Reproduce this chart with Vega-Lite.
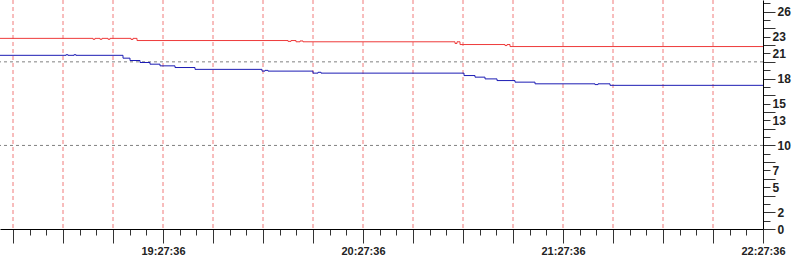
{
  "$schema": "https://vega.github.io/schema/vega-lite/v6.json",
  "width": 763,
  "height": 229,
  "autosize": {"type": "none"},
  "padding": {"left": 0, "top": 0, "right": 37, "bottom": 31},
  "background": "white",
  "config": {
    "view": {"stroke": null},
    "axisX": {
      "title": null,
      "grid": false,
      "labelOverlap": false,
      "labelFlush": false,
      "labelFont": "Liberation Sans",
      "labelFontSize": 11,
      "labelFontWeight": "bold",
      "labelColor": "#222222",
      "labelPadding": 2,
      "domainColor": "#000000",
      "domainWidth": 1,
      "tickColor": "#333333",
      "tickWidth": 1
    },
    "axisY": {
      "title": null,
      "grid": false,
      "labelOverlap": false,
      "labelFlush": false,
      "labelFont": "Liberation Sans",
      "labelFontSize": 12,
      "labelFontWeight": "bold",
      "labelColor": "#222222",
      "labelPadding": 2,
      "domainColor": "#000000",
      "domainWidth": 1,
      "tickColor": "#333333",
      "tickWidth": 1
    }
  },
  "datasets": {
    "vgrid": [
      {"g": "2024-01-01T18:42:36Z"}, {"g": "2024-01-01T18:57:36Z"}, {"g": "2024-01-01T19:12:36Z"},
      {"g": "2024-01-01T19:27:36Z"}, {"g": "2024-01-01T19:42:36Z"}, {"g": "2024-01-01T19:57:36Z"},
      {"g": "2024-01-01T20:12:36Z"}, {"g": "2024-01-01T20:27:36Z"}, {"g": "2024-01-01T20:42:36Z"},
      {"g": "2024-01-01T20:57:36Z"}, {"g": "2024-01-01T21:12:36Z"}, {"g": "2024-01-01T21:27:36Z"},
      {"g": "2024-01-01T21:42:36Z"}, {"g": "2024-01-01T21:57:36Z"}, {"g": "2024-01-01T22:12:36Z"}
    ],
    "hgrid": [{"h": 10}, {"h": 20}],
    "series": [
      {"t": "2024-01-01T18:38:42Z", "series": "Series 1", "v": 22.81},
      {"t": "2024-01-01T19:06:36Z", "series": "Series 1", "v": 22.70},
      {"t": "2024-01-01T19:07:12Z", "series": "Series 1", "v": 22.81},
      {"t": "2024-01-01T19:08:42Z", "series": "Series 1", "v": 22.70},
      {"t": "2024-01-01T19:09:18Z", "series": "Series 1", "v": 22.81},
      {"t": "2024-01-01T19:11:06Z", "series": "Series 1", "v": 22.70},
      {"t": "2024-01-01T19:11:42Z", "series": "Series 1", "v": 22.81},
      {"t": "2024-01-01T19:18:00Z", "series": "Series 1", "v": 22.68},
      {"t": "2024-01-01T19:18:36Z", "series": "Series 1", "v": 22.81},
      {"t": "2024-01-01T19:19:48Z", "series": "Series 1", "v": 22.55},
      {"t": "2024-01-01T20:05:06Z", "series": "Series 1", "v": 22.45},
      {"t": "2024-01-01T20:06:00Z", "series": "Series 1", "v": 22.55},
      {"t": "2024-01-01T20:07:30Z", "series": "Series 1", "v": 22.40},
      {"t": "2024-01-01T20:08:42Z", "series": "Series 1", "v": 22.50},
      {"t": "2024-01-01T20:09:36Z", "series": "Series 1", "v": 22.40},
      {"t": "2024-01-01T20:55:12Z", "series": "Series 1", "v": 22.20},
      {"t": "2024-01-01T20:55:48Z", "series": "Series 1", "v": 22.40},
      {"t": "2024-01-01T20:56:42Z", "series": "Series 1", "v": 22.07},
      {"t": "2024-01-01T21:10:12Z", "series": "Series 1", "v": 21.95},
      {"t": "2024-01-01T21:10:48Z", "series": "Series 1", "v": 22.07},
      {"t": "2024-01-01T21:11:42Z", "series": "Series 1", "v": 21.83},
      {"t": "2024-01-01T22:27:36Z", "series": "Series 1", "v": 21.83},
      {"t": "2024-01-01T18:38:42Z", "series": "Series 2", "v": 20.78},
      {"t": "2024-01-01T18:58:30Z", "series": "Series 2", "v": 20.85},
      {"t": "2024-01-01T18:59:06Z", "series": "Series 2", "v": 20.78},
      {"t": "2024-01-01T19:00:54Z", "series": "Series 2", "v": 20.85},
      {"t": "2024-01-01T19:01:30Z", "series": "Series 2", "v": 20.78},
      {"t": "2024-01-01T19:15:36Z", "series": "Series 2", "v": 20.44},
      {"t": "2024-01-01T19:17:42Z", "series": "Series 2", "v": 20.16},
      {"t": "2024-01-01T19:20:42Z", "series": "Series 2", "v": 19.92},
      {"t": "2024-01-01T19:23:42Z", "series": "Series 2", "v": 19.72},
      {"t": "2024-01-01T19:26:42Z", "series": "Series 2", "v": 19.52},
      {"t": "2024-01-01T19:31:12Z", "series": "Series 2", "v": 19.32},
      {"t": "2024-01-01T19:37:12Z", "series": "Series 2", "v": 19.10},
      {"t": "2024-01-01T19:57:18Z", "series": "Series 2", "v": 18.89},
      {"t": "2024-01-01T19:58:12Z", "series": "Series 2", "v": 18.98},
      {"t": "2024-01-01T19:59:06Z", "series": "Series 2", "v": 18.89},
      {"t": "2024-01-01T20:12:36Z", "series": "Series 2", "v": 18.65},
      {"t": "2024-01-01T20:14:06Z", "series": "Series 2", "v": 18.75},
      {"t": "2024-01-01T20:15:00Z", "series": "Series 2", "v": 18.65},
      {"t": "2024-01-01T20:57:54Z", "series": "Series 2", "v": 18.36},
      {"t": "2024-01-01T21:01:12Z", "series": "Series 2", "v": 18.17},
      {"t": "2024-01-01T21:04:12Z", "series": "Series 2", "v": 17.96},
      {"t": "2024-01-01T21:07:48Z", "series": "Series 2", "v": 17.76},
      {"t": "2024-01-01T21:13:12Z", "series": "Series 2", "v": 17.57},
      {"t": "2024-01-01T21:19:12Z", "series": "Series 2", "v": 17.37},
      {"t": "2024-01-01T21:37:12Z", "series": "Series 2", "v": 17.28},
      {"t": "2024-01-01T21:38:06Z", "series": "Series 2", "v": 17.37},
      {"t": "2024-01-01T21:41:42Z", "series": "Series 2", "v": 17.19},
      {"t": "2024-01-01T22:27:36Z", "series": "Series 2", "v": 17.19}
    ]
  },
  "layer": [
    {
      "data": {"name": "vgrid"},
      "mark": {"type": "rule", "stroke": "#f07a7a", "strokeWidth": 1, "strokeDash": [4, 3]},
      "encoding": {
        "x": {
          "field": "g",
          "type": "temporal",
          "title": null,
          "scale": {"type": "utc", "domain": [1704134322000, 1704148056000], "nice": false},
          "axis": {
            "title": null,
            "orient": "bottom",
            "values": [1704134556000,1704134856000,1704135156000,1704135456000,1704135756000,1704136056000,1704136356000,1704136656000,1704136956000,1704137256000,1704137556000,1704137856000,1704138156000,1704138456000,1704138756000,1704139056000,1704139356000,1704139656000,1704139956000,1704140256000,1704140556000,1704140856000,1704141156000,1704141456000,1704141756000,1704142056000,1704142356000,1704142656000,1704142956000,1704143256000,1704143556000,1704143856000,1704144156000,1704144456000,1704144756000,1704145056000,1704145356000,1704145656000,1704145956000,1704146256000,1704146556000,1704146856000,1704147156000,1704147456000,1704147756000,1704148056000],
            "labelExpr": "utcminutes(datum.value) == 27 ? utcFormat(datum.value, '%H:%M:%S') : ''",
            "tickSize": {"condition": {"test": "utcminutes(datum.value) % 15 == 12", "value": 14}, "value": 6}
          }
        }
      }
    },
    {
      "data": {"name": "hgrid"},
      "mark": {"type": "rule", "stroke": "#808080", "strokeWidth": 1, "strokeDash": [3, 3]},
      "encoding": {
        "y": {
          "field": "h",
          "type": "quantitative",
          "title": null,
          "scale": {"domain": [0, 27.4], "nice": false, "zero": false},
          "axis": {
            "title": null,
            "orient": "right",
            "values": [0,1,2,3,4,5,6,7,8,9,10,11,12,13,14,15,16,17,18,19,20,21,22,23,24,25,26,27],
            "labelExpr": "indexof([0,2,5,7,10,13,15,18,21,23,26], datum.value) >= 0 ? datum.label : ''",
            "tickSize": {"condition": {"test": "datum.value % 2 == 0", "value": 12}, "value": 7}
          }
        }
      }
    },
    {
      "data": {"name": "series"},
      "mark": {"type": "line", "interpolate": "step-after", "strokeWidth": 1, "clip": true},
      "encoding": {
        "x": {
          "field": "t",
          "type": "temporal",
          "title": null,
          "scale": {"type": "utc", "domain": [1704134322000, 1704148056000], "nice": false},
          "axis": {
            "title": null,
            "orient": "bottom",
            "values": [1704134556000,1704134856000,1704135156000,1704135456000,1704135756000,1704136056000,1704136356000,1704136656000,1704136956000,1704137256000,1704137556000,1704137856000,1704138156000,1704138456000,1704138756000,1704139056000,1704139356000,1704139656000,1704139956000,1704140256000,1704140556000,1704140856000,1704141156000,1704141456000,1704141756000,1704142056000,1704142356000,1704142656000,1704142956000,1704143256000,1704143556000,1704143856000,1704144156000,1704144456000,1704144756000,1704145056000,1704145356000,1704145656000,1704145956000,1704146256000,1704146556000,1704146856000,1704147156000,1704147456000,1704147756000,1704148056000],
            "labelExpr": "utcminutes(datum.value) == 27 ? utcFormat(datum.value, '%H:%M:%S') : ''",
            "tickSize": {"condition": {"test": "utcminutes(datum.value) % 15 == 12", "value": 14}, "value": 6}
          }
        },
        "y": {
          "field": "v",
          "type": "quantitative",
          "title": null,
          "scale": {"domain": [0, 27.4], "nice": false, "zero": false},
          "axis": {
            "title": null,
            "orient": "right",
            "values": [0,1,2,3,4,5,6,7,8,9,10,11,12,13,14,15,16,17,18,19,20,21,22,23,24,25,26,27],
            "labelExpr": "indexof([0,2,5,7,10,13,15,18,21,23,26], datum.value) >= 0 ? datum.label : ''",
            "tickSize": {"condition": {"test": "datum.value % 2 == 0", "value": 12}, "value": 7}
          }
        },
        "color": {
          "field": "series",
          "type": "nominal",
          "scale": {"domain": ["Series 1", "Series 2"], "range": ["#ee3a3a", "#1c1cb4"]},
          "legend": null
        }
      }
    }
  ]
}
